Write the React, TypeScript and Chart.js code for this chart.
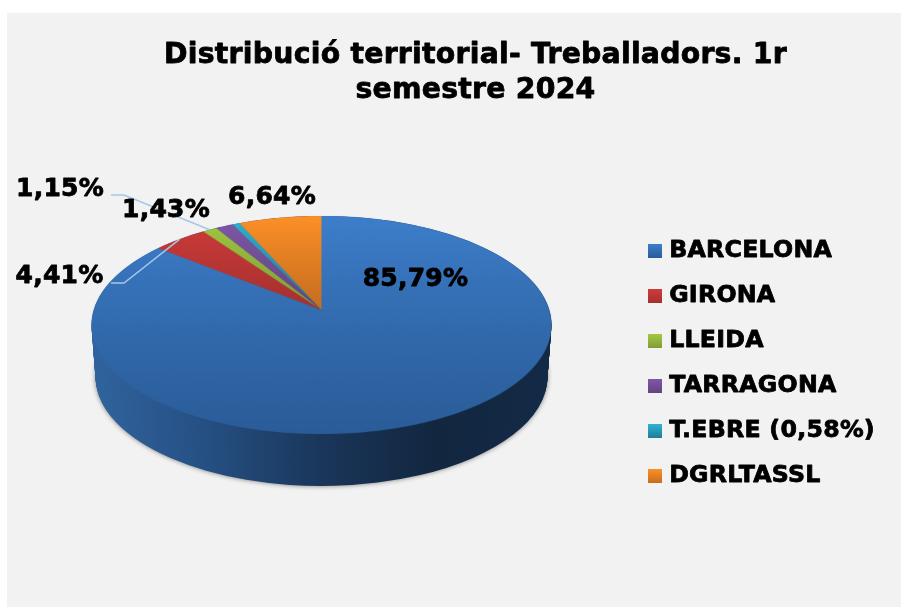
import React, { useEffect, useRef } from "react";
import { Chart, registerables } from "chart.js";

Chart.register(...registerables);

const categories = ["BARCELONA", "GIRONA", "LLEIDA", "TARRAGONA", "T.EBRE (0,58%)", "DGRLTASSL"];
const shares = [85.79, 4.41, 1.15, 1.43, 0.58, 6.64];
const colorsTop = ["#3d7ecb", "#cf3c3a", "#a2c940", "#7f58a9", "#2fb3d1", "#fd9027"];
const colorsBottom = ["#2a5c98", "#a5302f", "#7f9c38", "#63447f", "#1f7d98", "#c56d20"];
const sideStops = ["#30639d", "#254f82", "#1a365a", "#12263f", "#132a46"];
const titleLines = ["Distribució territorial- Treballadors. 1r", "semestre 2024"];
const FONT = "'DejaVu Sans'";

// Perspective of the top face and extrusion of the wall
const APEX = { x: 321.5, y: 310 };
const PERSP = { ay: 107, bx: 227.8, r: -0.1376 };
const WALL = { rx0: 230, rx1: 226, ry: 109, cy0: 325, depth: 52 };

// Data label centres; the leader lines run to the middle of their slice.
const labelSpots: Record<number, { x: number; y: number; elbow?: number; lineY?: number }> = {
  0: { x: 415.5, y: 279.5 },
  1: { x: 59.5, y: 276.5, elbow: 124, lineY: 283 },
  2: { x: 60, y: 189.5, elbow: 124, lineY: 195 },
  3: { x: 166, y: 210.5 },
  5: { x: 272, y: 197.5 },
};

const project = (a: number) => {
  const d = 1 + PERSP.r * Math.sin(a);
  return { x: APEX.x + (PERSP.bx * Math.cos(a)) / d, y: APEX.y + (PERSP.ay * Math.sin(a)) / d };
};

const drawArcs = (arcs: any[], ctx: CanvasRenderingContext2D, fill?: any) => {
  arcs.forEach((el) => {
    const saved = el.options;
    if (fill) el.options = { ...saved, backgroundColor: fill };
    el.draw(ctx);
    el.options = saved;
  });
};

// The reference's type is heavier than DejaVu Sans Bold: every text gets a thin outline too.
const embolden = (ctx: any, on: boolean) => {
  ctx.letterSpacing = on ? "0.25px" : "0px";
  if (!on) {
    delete ctx.fillText;
    return;
  }
  const proto = CanvasRenderingContext2D.prototype;
  ctx.fillText = function (t: string, x: number, y: number, m?: number) {
    this.save();
    this.strokeStyle = this.fillStyle;
    this.lineWidth = 0.8;
    this.lineJoin = "round";
    if (m === undefined) proto.strokeText.call(this, t, x, y);
    else proto.strokeText.call(this, t, x, y, m);
    this.restore();
    if (m === undefined) proto.fillText.call(this, t, x, y);
    else proto.fillText.call(this, t, x, y, m);
  };
};

const pie3d = {
  id: "pie3d",
  beforeDraw(chart: any) {
    const { ctx } = chart;
    ctx.save();
    ctx.fillStyle = "#f2f2f2";
    ctx.fillRect(7, 13, 894, 594);
    ctx.restore();
    embolden(ctx, true);
  },
  afterLayout(chart: any) {
    chart.titleBlock.left = 50;
    chart.titleBlock.right = 901;
    chart.legend.left = 632;
    chart.legend.top = 218;
    chart.legend.bottom = 607;
  },
  beforeDatasetsDraw(chart: any) {
    const ctx: CanvasRenderingContext2D = chart.ctx;
    embolden(ctx, false);
    const arcs: any[] = chart.getDatasetMeta(0).data;
    const { x: ex, y: ey, outerRadius: R } = arcs[0];

    // Wall: the library's arcs, stacked from the floor upwards
    const side = ctx.createLinearGradient(ex - R, 0, ex + R, 0);
    sideStops.forEach((c, i) => side.addColorStop(i / (sideStops.length - 1), c));
    for (let d = WALL.depth; d >= 0; d -= 1) {
      const t = d / WALL.depth;
      const rx = WALL.rx0 + (WALL.rx1 - WALL.rx0) * t;
      ctx.save();
      if (d === WALL.depth) {
        ctx.shadowColor = "rgba(0,0,0,0.5)";
        ctx.shadowBlur = 5;
        ctx.shadowOffsetY = 0;
      }
      ctx.translate(APEX.x, WALL.cy0 + d);
      ctx.scale(rx / R, WALL.ry / R);
      ctx.translate(-ex, -ey);
      drawArcs(arcs, ctx, side);
      ctx.restore();
    }

    // Top face: arcs flat on a spare canvas, then projected row by row
    const SRC = 1000;
    const SRC_R = 480;
    const flat = document.createElement("canvas");
    flat.width = SRC;
    flat.height = SRC;
    const fc = flat.getContext("2d")!;
    fc.translate(SRC / 2, SRC / 2);
    fc.scale(SRC_R / R, SRC_R / R);
    fc.translate(-ex, -ey);
    drawArcs(arcs, fc);

    const SS = 3;
    const x0 = 80;
    const y0 = 210;
    const w = 490;
    const h = 230;
    const warp = document.createElement("canvas");
    warp.width = w * SS;
    warp.height = h * SS;
    const wc = warp.getContext("2d")!;
    wc.imageSmoothingEnabled = true;
    wc.imageSmoothingQuality = "high";
    for (let row = 0; row < h * SS; row += 1) {
      const Y = y0 + (row + 0.5) / SS - APEX.y;
      const s = Y / (PERSP.ay - PERSP.r * Y);
      if (Math.abs(s) >= 1) continue;
      const half = ((PERSP.bx * (SRC / 2)) / SRC_R / (1 + PERSP.r * s));
      wc.drawImage(flat, 0, SRC / 2 + s * SRC_R - 0.5, SRC, 1, (APEX.x - half - x0) * SS, row, 2 * half * SS, 1);
    }
    ctx.save();
    ctx.imageSmoothingEnabled = true;
    ctx.imageSmoothingQuality = "high";
    ctx.drawImage(warp, x0, y0, w, h);
    ctx.restore();

    // Leader lines
    ctx.save();
    ctx.strokeStyle = "#a6c6e8";
    ctx.lineWidth = 1.5;
    arcs.forEach((el, i) => {
      const spot = labelSpots[i];
      if (!spot || spot.elbow === undefined) return;
      const end = project((el.startAngle + el.endAngle) / 2);
      ctx.beginPath();
      ctx.moveTo(111, spot.lineY!);
      ctx.lineTo(spot.elbow, spot.lineY!);
      ctx.lineTo(end.x, end.y);
      ctx.stroke();
    });
    // Data labels
    embolden(ctx, true);
    ctx.fillStyle = "#000";
    ctx.font = `bold 25px ${FONT}`;
    ctx.textAlign = "center";
    ctx.textBaseline = "middle";
    shares.forEach((v, i) => {
      const spot = labelSpots[i];
      if (spot) ctx.fillText(`${v.toFixed(2).replace(".", ",")}%`, spot.x, spot.y);
    });
    ctx.restore();
    embolden(ctx, false);
    return false;
  },
};

const legendSquare = (i: number) => {
  const c = document.createElement("canvas");
  c.width = 14;
  c.height = 14;
  const g = c.getContext("2d")!;
  const grad = g.createLinearGradient(0, 0, 0, 14);
  grad.addColorStop(0, colorsTop[i]);
  grad.addColorStop(1, colorsBottom[i]);
  g.fillStyle = grad;
  g.fillRect(0, 0, 14, 14);
  return c;
};

export default function App() {
  const ref = useRef<HTMLCanvasElement>(null);
  useEffect(() => {
    const chart = new Chart(ref.current!, {
      type: "pie",
      data: {
        labels: categories,
        datasets: [
          {
            data: shares,
            borderWidth: 0,
            backgroundColor: (c: any) => {
              const area = c.chart.chartArea;
              if (!area) return colorsTop[c.dataIndex];
              const R = Math.min(area.right - area.left, area.bottom - area.top) / 2;
              const cy = (area.top + area.bottom) / 2;
              const big = c.dataIndex === 0;
              const g = c.chart.ctx.createLinearGradient(0, cy - R, 0, big ? cy + R : cy);
              g.addColorStop(0, colorsTop[c.dataIndex]);
              g.addColorStop(1, colorsBottom[c.dataIndex]);
              return g;
            },
          },
        ],
      },
      options: {
        responsive: false,
        animation: false,
        devicePixelRatio: 1,
        plugins: {
          tooltip: { enabled: false },
          title: {
            display: true,
            text: titleLines,
            color: "#000",
            font: { family: FONT, size: 28.3, weight: "bold", lineHeight: 1.23 },
            padding: { top: 38, bottom: 10 },
          },
          legend: {
            position: "right",
            align: "start",
            labels: {
              color: "#000",
              font: { family: FONT, size: 23.7, weight: "bold" },
              padding: 21.3,
              usePointStyle: true,
              pointStyleWidth: 4,
              generateLabels: () =>
                categories.map((text, i) => ({
                  text,
                  index: i,
                  hidden: false,
                  lineWidth: 0,
                  fillStyle: colorsTop[i],
                  strokeStyle: colorsTop[i],
                  fontColor: "#000",
                  pointStyle: legendSquare(i),
                })),
            },
          },
        },
      } as any,
      plugins: [pie3d as any],
    });
    return () => chart.destroy();
  }, []);
  return (
    <div style={{ position: "absolute", left: 0, top: 0, width: 901, height: 607, background: "#fff" }}>
      <canvas ref={ref} width={901} height={607} style={{ display: "block" }} />
    </div>
  );
}
